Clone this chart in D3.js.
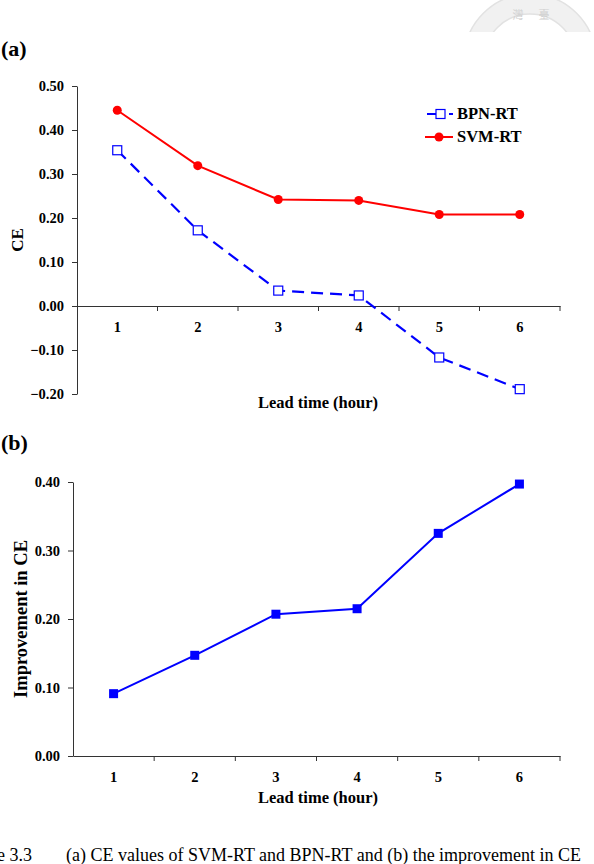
<!DOCTYPE html>
<html>
<head>
<meta charset="utf-8">
<script src="https://cdn.jsdelivr.net/npm/d3@7"></script>
<style>
  body { margin: 0; background: #fff; }
  text { font-family: "Liberation Serif", "Times New Roman", serif; }
</style>
</head>
<body>
<div id="chart-area"></div>
<script>
// values
const leadTimes = [1, 2, 3, 4, 5, 6];
const svmRT = [0.445, 0.319, 0.242, 0.240, 0.208, 0.208];
const bpnRT = [0.354, 0.172, 0.035, 0.024, -0.117, -0.189];
const improvement = [0.091, 0.147, 0.207, 0.215, 0.325, 0.397];
const ceTicks = [-0.2, -0.1, 0, 0.1, 0.2, 0.3, 0.4, 0.5];
const impTicks = [0, 0.1, 0.2, 0.3, 0.4];

const svg = d3.select("#chart-area").append("svg")
    .attr("width", 594)
    .attr("height", 864);

const fmt = d3.format(".2f");
const axisColor = "#333";

// faint seal watermark at the top right
const defs = svg.append("defs");
defs.append("clipPath").attr("id", "sealClip")
  .append("rect").attr("x", 440).attr("y", 0).attr("width", 160).attr("height", 32);

const seal = svg.append("g").attr("clip-path", "url(#sealClip)");
seal.append("path")
    .attr("transform", "translate(530,60)")
    .attr("d", d3.arc().innerRadius(46).outerRadius(66).startAngle(-Math.PI / 2).endAngle(Math.PI / 2)())
    .attr("fill", "#f1f1f1")
    .attr("stroke", "#e2e2e2")
    .attr("stroke-width", 1.5);
seal.selectAll("text.seal").data(["灣", "臺"]).enter().append("text")
    .attr("x", (d, i) => 518 + i * 26)
    .attr("y", 19)
    .attr("text-anchor", "middle")
    .style("font-family", "'Noto Sans CJK TC', sans-serif")
    .style("font-size", "11px")
    .attr("fill", "#cfcfcf")
    .text((d) => d);

function panel(opts) {
  const g = svg.append("g");

  const x = d3.scaleBand().domain(leadTimes).range([opts.left, 560]);
  const y = d3.scaleLinear().domain(opts.domain).range([opts.bottom, opts.top]);

  // y axis
  const yAxis = g.append("g")
      .attr("transform", "translate(" + opts.left + ",0)")
      .call(d3.axisLeft(y).tickValues(opts.ticks).tickFormat(fmt).tickSize(5).tickPadding(8).tickSizeOuter(0));
  yAxis.select(".domain").attr("stroke", axisColor);
  yAxis.selectAll(".tick line").attr("stroke", axisColor);
  yAxis.selectAll("text")
      .style("font-size", "14.5px").style("font-weight", "bold")
      .style("font-family", "'Liberation Serif', serif")
      .attr("fill", "#000");

  // x axis at zero, Excel-style ticks between categories
  const y0 = y(0);
  const xAxis = g.append("g")
      .attr("transform", "translate(0," + y0 + ")")
      .call(d3.axisBottom(x).tickSize(0).tickPadding(opts.labelPad).tickSizeOuter(0));
  xAxis.select(".domain").attr("stroke", axisColor);
  xAxis.selectAll("text")
      .style("font-size", "14.5px").style("font-weight", "bold")
      .style("font-family", "'Liberation Serif', serif")
      .attr("fill", "#000");
  g.selectAll("line.xtick").data(leadTimes).enter().append("line")
      .attr("x1", (d) => x(d) + x.bandwidth())
      .attr("x2", (d) => x(d) + x.bandwidth())
      .attr("y1", y0)
      .attr("y2", y0 + 5)
      .attr("stroke", axisColor);

  // axis titles
  g.append("text")
      .attr("x", 318)
      .attr("y", opts.xTitleY)
      .attr("text-anchor", "middle")
      .style("font-size", "16.5px").style("font-weight", "bold")
      .text("Lead time (hour)");

  g.append("text")
      .attr("transform", "translate(" + opts.yTitleX + "," + (opts.top + opts.bottom) / 2 + ") rotate(-90)")
      .attr("text-anchor", "middle")
      .style("font-size", opts.yTitleSize).style("font-weight", "bold")
      .text(opts.yTitle);

  g.append("text")
      .attr("x", 1)
      .attr("y", opts.tagY)
      .style("font-size", "22px").style("font-weight", "bold")
      .text(opts.tag);

  return {g, x, y};
}

// ---- (a)
const a = panel({
  left: 77, top: 86, bottom: 394, domain: [-0.2, 0.5], ticks: ceTicks,
  labelPad: 16, xTitleY: 408, yTitle: "CE", yTitleX: 23, yTitleSize: "17px", tag: "(a)", tagY: 56
});
const cx = (i) => a.x(leadTimes[i]) + a.x.bandwidth() / 2;

const lineA = (vals) => d3.line()
    .x((d, i) => cx(i))
    .y((d) => a.y(d))(vals);

a.g.append("path")
    .attr("d", lineA(bpnRT))
    .attr("fill", "none")
    .attr("stroke", "#0000ff")
    .attr("stroke-width", 2.2)
    .attr("stroke-dasharray", "12,7");

a.g.append("path")
    .attr("d", lineA(svmRT))
    .attr("fill", "none")
    .attr("stroke", "#ff0000")
    .attr("stroke-width", 2);

a.g.selectAll("rect.bpn").data(bpnRT).enter().append("rect")
    .attr("x", (d, i) => cx(i) - 4.5)
    .attr("y", (d) => a.y(d) - 4.5)
    .attr("width", 9)
    .attr("height", 9)
    .attr("fill", "#fff")
    .attr("stroke", "#0000ff")
    .attr("stroke-width", 1.2);

a.g.selectAll("circle.svm").data(svmRT).enter().append("circle")
    .attr("cx", (d, i) => cx(i))
    .attr("cy", (d) => a.y(d))
    .attr("r", 4.5)
    .attr("fill", "#ff0000");

// legend
const legend = a.g.append("g");
legend.append("line")
    .attr("x1", 427).attr("x2", 453).attr("y1", 114).attr("y2", 114)
    .attr("stroke", "#0000ff").attr("stroke-width", 2.2)
    .attr("stroke-dasharray", "12,10");
legend.append("rect")
    .attr("x", 436).attr("y", 109.5).attr("width", 9).attr("height", 9)
    .attr("fill", "#fff").attr("stroke", "#0000ff").attr("stroke-width", 1.2);
legend.append("line")
    .attr("x1", 425).attr("x2", 453).attr("y1", 137).attr("y2", 137)
    .attr("stroke", "#ff0000").attr("stroke-width", 2);
legend.append("circle")
    .attr("cx", 439).attr("cy", 137).attr("r", 4.5).attr("fill", "#ff0000");
legend.selectAll("text").data(["BPN-RT", "SVM-RT"]).enter().append("text")
    .attr("x", 457)
    .attr("y", (d, i) => 119 + i * 23)
    .style("font-size", "16.5px").style("font-weight", "bold")
    .text((d) => d);

// ---- (b)
const b = panel({
  left: 73, top: 482, bottom: 756, domain: [0, 0.4], ticks: impTicks,
  labelPad: 16, xTitleY: 803, yTitle: "Improvement in CE", yTitleX: 27, yTitleSize: "18.5px", tag: "(b)", tagY: 450
});
const bx = (i) => b.x(leadTimes[i]) + b.x.bandwidth() / 2;

b.g.append("path")
    .attr("d", d3.line().x((d, i) => bx(i)).y((d) => b.y(d))(improvement))
    .attr("fill", "none")
    .attr("stroke", "#0000ff")
    .attr("stroke-width", 2);

b.g.selectAll("rect.imp").data(improvement).enter().append("rect")
    .attr("x", (d, i) => bx(i) - 4.5)
    .attr("y", (d) => b.y(d) - 4.5)
    .attr("width", 9)
    .attr("height", 9)
    .attr("fill", "#0000ff");

// caption, cut off at the page edges like the source
svg.append("text")
    .attr("x", 32)
    .attr("y", 861)
    .attr("text-anchor", "end")
    .style("font-size", "18px")
    .text("Figure 3.3");
svg.append("text")
    .attr("x", 66)
    .attr("y", 861)
    .style("font-size", "18px")
    .text("(a) CE values of SVM-RT and BPN-RT and (b) the improvement in CE");
</script>
</body>
</html>
